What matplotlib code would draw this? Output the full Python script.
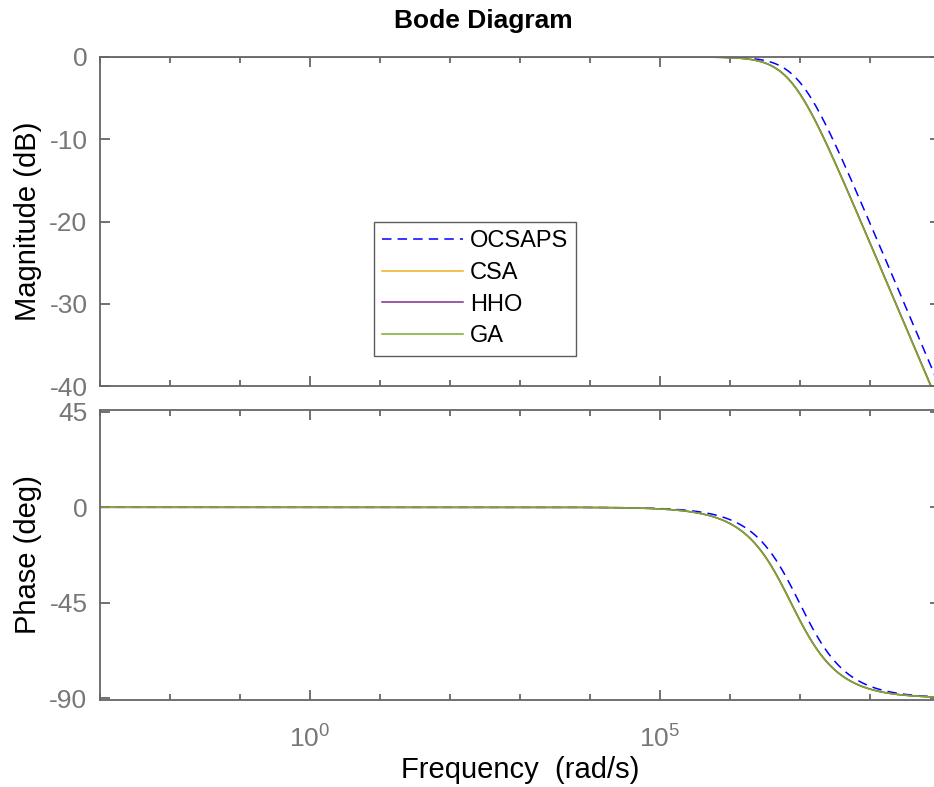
import numpy as np
import matplotlib
matplotlib.use("Agg")
import matplotlib.pyplot as plt
from matplotlib.ticker import FixedLocator, NullFormatter

plt.rcParams['font.family'] = ['Liberation Sans', 'DejaVu Sans']
plt.rcParams['mathtext.fontset'] = 'custom'
plt.rcParams['mathtext.rm'] = 'Liberation Sans'
plt.rcParams['mathtext.it'] = 'Liberation Sans'

# ---- data: first-order low-pass transfer functions H(s) = num / den ----
series_names = ["OCSAPS", "CSA", "HHO", "GA"]
num_coeffs = [[1.0], [1.0], [1.0], [1.0]]
# denominator coefficients [a1, a0] of a1*s + a0  (pole ~ a0/a1 rad/s)
den_coeffs = [[1 / 9.8e6, 1.0], [1 / 7.35e6, 1.0], [1 / 7.45e6, 1.0], [1 / 7.4e6, 1.0]]
series_colors = ["#0000ff", "#edb120", "#7e2f8e", "#77ac30"]
series_styles = ["--", "-", "-", "-"]

freq_min_exp, freq_max_exp = -3, 9
mag_ticks = [0, -10, -20, -30, -40]
phase_ticks = [45, 0, -45, -90]
x_major_ticks = [1e0, 1e5]

W, H = 934, 787
fig = plt.figure(figsize=(W / 100, H / 100), dpi=100)

def ax_rect(x0, y0, x1, y1):
    return [x0 / W, 1 - y1 / H, (x1 - x0) / W, (y1 - y0) / H]

ax_mag = fig.add_axes(ax_rect(100, 57, 940, 386))
ax_ph = fig.add_axes(ax_rect(100, 410, 940, 700))

w = np.logspace(freq_min_exp, freq_max_exp, 2000)
s = 1j * w
for name, num, den, c, ls in zip(series_names, num_coeffs, den_coeffs, series_colors, series_styles):
    Hjw = np.polyval(num, s) / np.polyval(den, s)
    mag = 20 * np.log10(np.abs(Hjw))
    ph = np.degrees(np.angle(Hjw))
    d = (6.2, 4.0) if ls == "--" else (None, None)
    ax_mag.semilogx(w, mag, color=c, ls=ls, lw=1.1, label=name, dashes=d)
    ax_ph.semilogx(w, ph, color=c, ls=ls, lw=1.1, dashes=d)

spine_c = "#666666"
label_c = "#777777"
minor = [10.0 ** k for k in range(freq_min_exp, freq_max_exp + 1)]
for ax in (ax_mag, ax_ph):
    ax.set_xscale('log')
    ax.set_xlim(10.0 ** freq_min_exp, 10.0 ** freq_max_exp)
    for sp in ax.spines.values():
        sp.set_color(spine_c)
        sp.set_linewidth(1.3)
    ax.xaxis.set_major_locator(FixedLocator(x_major_ticks))
    ax.xaxis.set_minor_locator(FixedLocator([m for m in minor if m not in x_major_ticks]))
    ax.xaxis.set_minor_formatter(NullFormatter())
    ax.tick_params(axis='both', which='major', direction='in', length=7, width=1.3,
                   color=spine_c, labelcolor=label_c, labelsize=19, top=True, right=True, pad=9)
    ax.tick_params(axis='x', which='minor', direction='in', length=4.5, width=1.3,
                   color=spine_c, top=True)

ax_mag.set_ylim(-40, 0)
ax_mag.set_yticks(mag_ticks)
ax_mag.set_yticklabels([str(t) for t in mag_ticks])
ax_mag.tick_params(axis='x', labelbottom=False)
ax_mag.set_ylabel("Magnitude (dB)", fontsize=21, color="black", labelpad=5)
fig.text(483 / W, 1 - 21 / H, "Bode Diagram", fontsize=19, fontweight="bold",
         ha="center", va="center")

ax_ph.set_ylim(-90.9, 45.9)
ax_ph.set_yticks(phase_ticks)
ax_ph.set_yticklabels([str(t) for t in phase_ticks])
ax_ph.set_xticklabels([r"$10^{0}$", r"$10^{5}$"])
ax_ph.tick_params(axis='x', which='major', labelsize=19, pad=18)
ax_ph.set_ylabel("Phase (deg)", fontsize=21, color="black", labelpad=5)
ax_ph.set_xlabel("Frequency  (rad/s)", fontsize=21, color="black", labelpad=3)

leg = ax_mag.legend(loc='upper left', bbox_to_anchor=((374 - 100) / 840, 1 - (222 - 57) / 329),
                    fontsize=17, frameon=True, fancybox=False, handlelength=3.4,
                    labelspacing=0.41, borderpad=0.35, handletextpad=0.3, borderaxespad=0)
leg.get_frame().set_edgecolor("#333333")
leg.get_frame().set_linewidth(1.0)

fig.savefig("out.png", dpi=100)
